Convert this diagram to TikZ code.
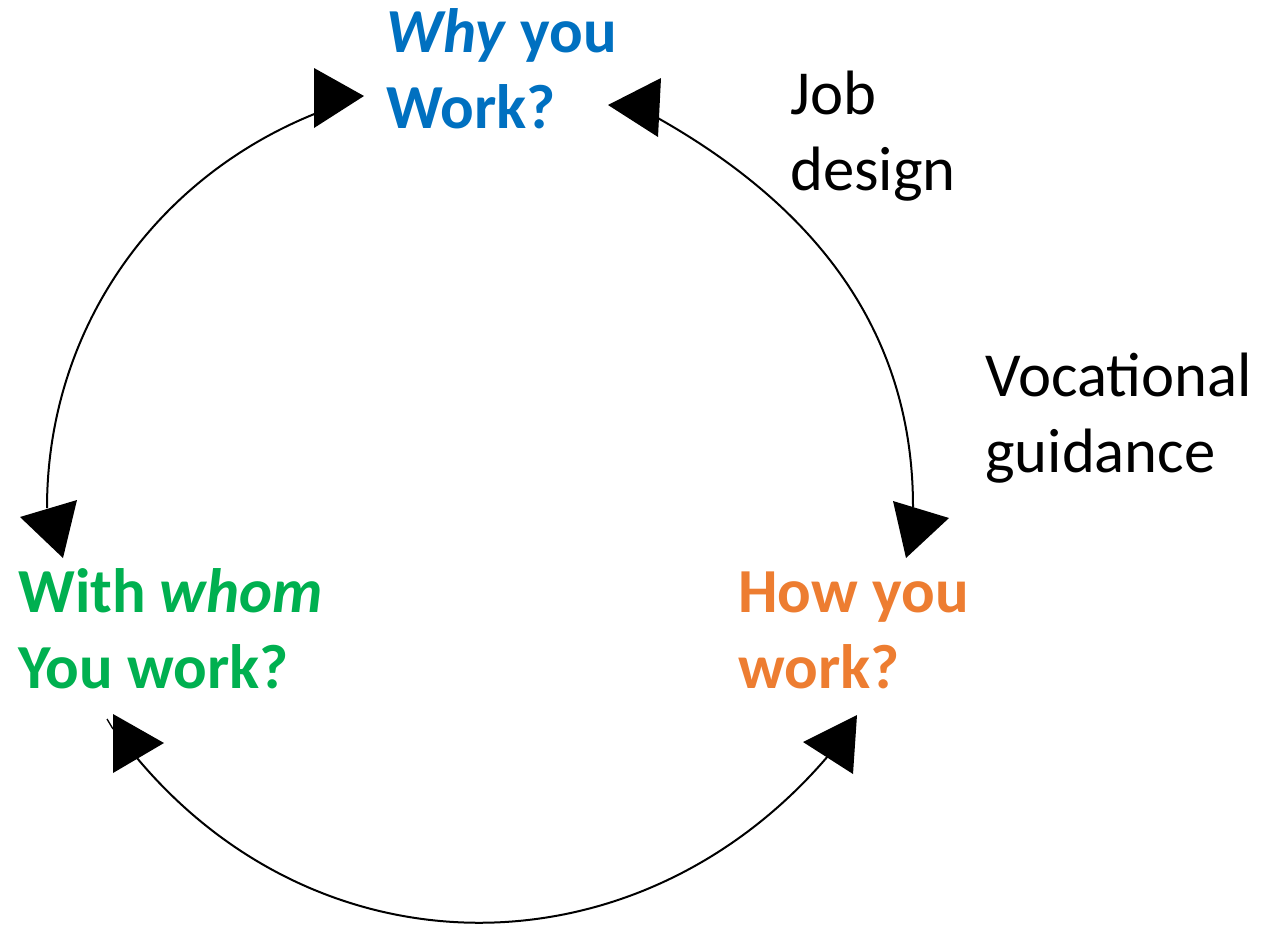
\documentclass[tikz,border=0pt]{standalone}
\usepackage{fontspec}
\setmainfont{Carlito}
\definecolor{wblue}{RGB}{0,112,192}
\definecolor{wgreen}{RGB}{0,176,80}
\definecolor{worange}{RGB}{237,125,49}
\begin{document}
\begin{tikzpicture}[x=0.75pt,y=-0.75pt,
  lbl/.style={anchor=base west, inner sep=0pt, align=left, font=\fontsize{47}{57}\selectfont},
  lblb/.style={lbl, font=\fontsize{47}{57}\selectfont\bfseries},
  conn/.style={line width=1.5pt, black},
  head/.style={fill=black, draw=none}]
\useasboundingbox (0,0) rectangle (1263,925);

% labels (anchor = baseline of the last line)
\node[lblb, text=wblue] (why) at (386,128) {\textit{Why} you\\Work?};
\node[lblb, text=wgreen] (whom) at (18,688) {With \textit{whom}\\You work?};
\node[lblb, text=worange] (how) at (738,688) {How you\\work?};
\node[lbl] (job) at (790,190) {Job\\design};
\node[lbl] (voc) at (985,472) {Vocational\\guidance};

% connector end points
\coordinate (a1) at (47,508);
\coordinate (a2) at (330,108);
\coordinate (b1) at (656,117);
\coordinate (b2) at (913,507);
\coordinate (c1) at (137,758);
\coordinate (c2) at (828,756);

% arcs
\draw[conn] (a1) .. controls (47,326) and (159,170) .. (a2);
\draw[conn] (b1) .. controls (800,198) and (913,318) .. (b2);
\draw[conn] (c1) .. controls (323,980) and (640,976) .. (c2);

% arrow heads
\fill[head] (314,68) -- (314,128) -- (364,96) -- cycle;
\fill[head] (608,105) -- (661,78) -- (658,137) -- cycle;
\fill[head] (20,517) -- (77,500) -- (63,558) -- cycle;
\fill[head] (893,501) -- (949,518) -- (906,558) -- cycle;
\fill[head] (113,714) -- (113,773) -- (164,743) -- cycle;
\fill[head] (857,715) -- (853,774) -- (803,742) -- cycle;

% small stray stroke
\draw[line width=1pt] (107,719) -- (113,729);
\end{tikzpicture}
\end{document}
